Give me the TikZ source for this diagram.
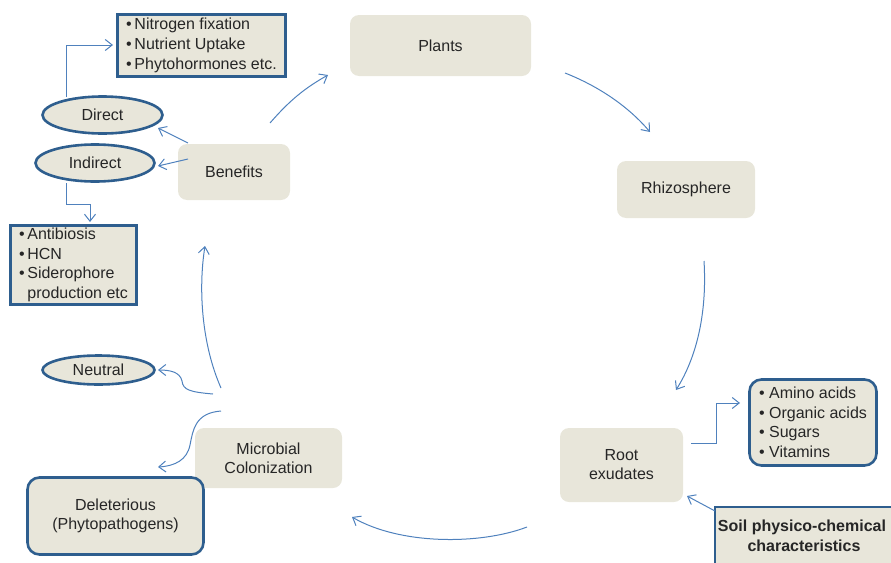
\documentclass[tikz,border=0pt]{standalone}
\usepackage{fontspec}
\setmainfont{Liberation Sans}
\usetikzlibrary{shapes.geometric,arrows.meta}
\definecolor{beige}{HTML}{E8E6DA}
\definecolor{bord}{HTML}{2E5E8E}
\definecolor{arrc}{HTML}{4F81BD}
\definecolor{txt}{HTML}{262626}
\tikzset{
  base/.style={fill=beige,text=txt,font=\fontsize{16}{19}\selectfont,align=center,inner sep=0pt},
  soft/.style={base,draw=none,rounded corners=9pt},
  framed/.style={base,draw=bord,line width=2.6pt},
  oval/.style={base,ellipse,draw=bord,line width=2.6pt},
  arr/.style={draw=arrc,line width=1pt,-{Straight Barb[length=7pt,width=11pt,line width=1pt]}}
}
\begin{document}
\begin{tikzpicture}[x=1pt,y=-1pt]
\useasboundingbox (0,0) rectangle (891,562);
% main cycle
\node[soft,minimum width=181pt,minimum height=61pt] (plants) at (440.5,45.5) {Plants};
\node[soft,minimum width=138pt,minimum height=57pt] (rhizo) at (686,189.5) {Rhizosphere};
\node[soft,minimum width=123pt,minimum height=74pt] (root) at (621.5,465) {Root\\exudates};
\node[soft,minimum width=147pt,minimum height=60pt] (micro) at (268.5,458) {Microbial\\Colonization};
\node[soft,minimum width=112pt,minimum height=56pt] (benef) at (234,172) {Benefits};
% side nodes
\node[oval,minimum width=120pt,minimum height=37pt] (direct) at (102.5,115) {Direct};
\node[oval,minimum width=119pt,minimum height=37pt] (indirect) at (95,163) {Indirect};
\node[oval,minimum width=112pt,minimum height=29pt] (neutral) at (98.5,370) {Neutral};
\node[framed,minimum width=168pt,minimum height=62pt,font=\fontsize{16}{20}\selectfont,align=left] (nitro) at (201.5,45.5)
  {\textbullet\,Nitrogen fixation\\\textbullet\,Nutrient Uptake\\\textbullet\,Phytohormones etc.};
\node[framed,minimum width=126pt,minimum height=79pt,font=\fontsize{16}{19.5}\selectfont,align=left] (anti) at (73.5,265)
  {\textbullet\,Antibiosis\\\textbullet\,HCN\\\textbullet\,Siderophore\\\hphantom{\textbullet\,}production etc};
\node[framed,rounded corners=12pt,minimum width=176pt,minimum height=77pt] (delet) at (115.5,516) {Deleterious\\(Phytopathogens)};
\node[framed,rounded corners=12pt,minimum width=127pt,minimum height=86pt,font=\fontsize{16}{19.5}\selectfont,align=left] (amino) at (813,422.5)
  {\textbullet\ Amino acids\\\textbullet\ Organic acids\\\textbullet\ Sugars\\\textbullet\ Vitamins};
\node[framed,minimum width=178pt,minimum height=58pt,font=\bfseries\fontsize{16}{20}\selectfont] (soil) at (804,536)
  {\hspace*{-4pt}Soil physico-chemical\\characteristics};
% connector end points
\coordinate (bpS) at (270,123); \coordinate (bpE) at (328,75);
\coordinate (prS) at (565,73); \coordinate (prE) at (650,132);
\coordinate (rrS) at (704,261); \coordinate (rrE) at (676,390);
\coordinate (rmS) at (527,527); \coordinate (rmE) at (352,517);
\coordinate (mbS) at (221,388); \coordinate (mbE) at (205,246);
\coordinate (mnS) at (213,394); \coordinate (mnE) at (158,370);
\coordinate (mdS) at (221,411); \coordinate (mdE) at (158,467);
\coordinate (bdS) at (188,143); \coordinate (bdE) at (158,128);
\coordinate (biS) at (188,159); \coordinate (biE) at (158,166);
\coordinate (srS) at (715,511); \coordinate (srE) at (687,496);
\coordinate (raS) at (691,443); \coordinate (raE) at (740,403);
\coordinate (dnS) at (66,97); \coordinate (dnE) at (113,45);
\coordinate (iaS) at (66,183); \coordinate (iaE) at (90,222);
% cycle arrows
\draw[arr] (bpS) .. controls (290,100) and (305,88) .. (bpE);
\draw[arr] (prS) .. controls (598,86) and (628,106) .. (prE);
\draw[arr] (rrS) .. controls (707,310) and (698,355) .. (rrE);
\draw[arr] (rmS) .. controls (480,545) and (400,545) .. (rmE);
\draw[arr] (mbS) .. controls (202,345) and (198,290) .. (mbE);
% branches
\draw[arr] (mnS) .. controls (190,392) and (183,390) .. (182,381) .. controls (180,372) and (170,370) .. (mnE);
\draw[arr] (mdS) .. controls (195,413) and (193,430) .. (190,445) .. controls (187,460) and (175,466) .. (mdE);
\draw[arr] (bdS) -- (bdE);
\draw[arr] (biS) -- (biE);
\draw[arr] (srS) -- (srE);
\draw[arr] (raS) -- (716,443) -- (716,403) -- (raE);
\draw[arr] (dnS) |- (dnE);
\draw[arr] (iaS) -- (66,204) -| (iaE);
\end{tikzpicture}
\end{document}
